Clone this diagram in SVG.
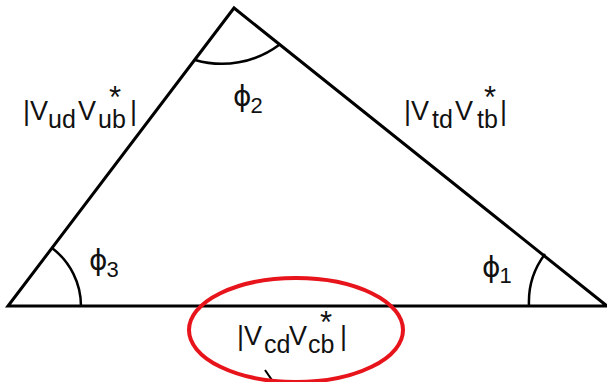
<svg xmlns="http://www.w3.org/2000/svg" width="607" height="382" viewBox="0 0 607 382">
<style>
.edge{fill:none;stroke:#000;stroke-width:3;stroke-linecap:round;stroke-linejoin:miter}
.arc{fill:none;stroke:#000;stroke-width:2.5}
.t{font-family:"Liberation Sans","DejaVu Sans",Arial,sans-serif;font-size:27px;fill:#111}
.sub{font-size:25px}
.star{font-size:31px}
.phi{font-family:"DejaVu Sans","Liberation Sans",sans-serif;font-size:28px;fill:#111}
.dig{font-family:"Liberation Sans","DejaVu Sans",Arial,sans-serif;font-size:22px}
</style>
<rect width="607" height="382" fill="#fff"/>
<g id="connectors">
  <path class="edge" d="M8,306 L234,8 L607,306 Z"/>
  <path class="arc" d="M195,60 A96,96 0 0,0 279,45"/>
  <path class="arc" d="M52,248 A73,73 0 0,1 81,306"/>
  <path class="arc" d="M545,254 A80,80 0 0,0 529,306"/>
  <line x1="265" y1="370" x2="274" y2="383" stroke="#000" stroke-width="2"/>
</g>
<g id="label-ud-ub">
  <text class="t" x="23" y="120">|V<tspan class="sub" x="48" y="128">ud</tspan><tspan x="78" y="120">V</tspan><tspan class="sub" x="98" y="128">ub</tspan><tspan class="star" x="109" y="108">*</tspan><tspan x="130" y="120">|</tspan></text>
</g>
<g id="label-td-tb">
  <text class="t" x="404" y="120">|V<tspan class="sub" x="432" y="128">td</tspan><tspan x="455" y="120">V</tspan><tspan class="sub" x="477" y="128">tb</tspan><tspan class="star" x="484" y="108">*</tspan><tspan x="500" y="120">|</tspan></text>
</g>
<g id="label-cd-cb">
  <text class="t" x="237" y="345">|V<tspan class="sub" x="264" y="353">cd</tspan><tspan x="289" y="345">V</tspan><tspan class="sub" x="308" y="353">cb</tspan><tspan class="star" x="320" y="333">*</tspan><tspan x="340" y="345">|</tspan></text>
</g>
<g id="angle-phi2">
  <text class="phi" x="233" y="106">ϕ<tspan class="dig" dx="-1" y="113">2</tspan></text>
</g>
<g id="angle-phi3">
  <text class="phi" x="89" y="270">ϕ<tspan class="dig" dx="-1" y="277">3</tspan></text>
</g>
<g id="angle-phi1">
  <text class="phi" x="482" y="277">ϕ<tspan class="dig" dx="-1" y="283">1</tspan></text>
</g>
<g id="highlight">
  <ellipse cx="296" cy="330" rx="107" ry="52" fill="none" stroke="#e8141b" stroke-width="4"/>
</g>
</svg>
